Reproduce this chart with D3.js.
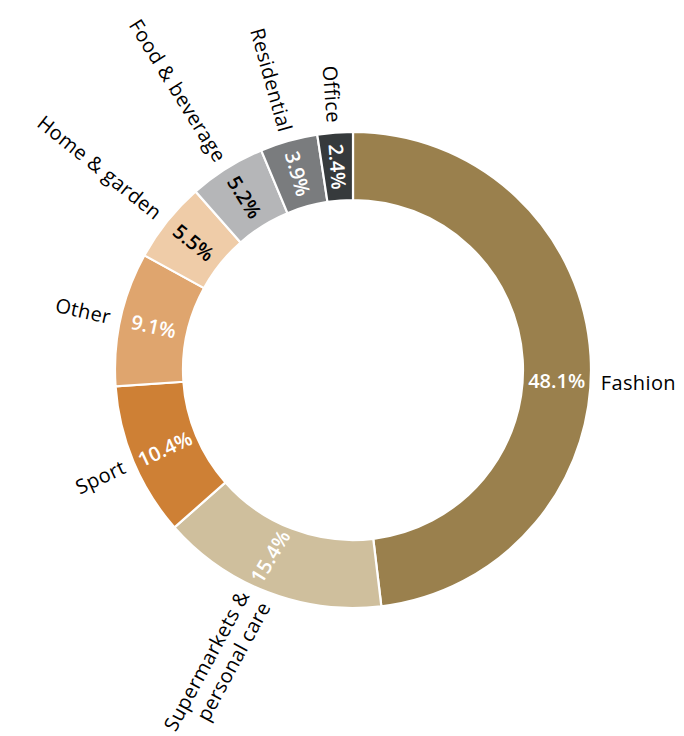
<!DOCTYPE html>
<html>
<head>
<meta charset="utf-8">
<script src="https://cdn.jsdelivr.net/npm/d3@7"></script>
<style>
  html, body { margin: 0; padding: 0; background: #ffffff; }
  svg { display: block; }
  text { font-family: "Open Sans", "Noto Sans", sans-serif; }
</style>
</head>
<body>
<svg id="chart" width="684" height="736"></svg>
<script>
// Portfolio split by segment, share of total (%)
const categories = ["Fashion", "Supermarkets & personal care", "Sport", "Other",
                    "Home & garden", "Food & beverage", "Residential", "Office"];
const shares = [48.1, 15.4, 10.4, 9.1, 5.5, 5.2, 3.9, 2.4];
const sliceColors = ["#9a804d", "#cfbf9d", "#ce8035", "#dfa56e",
                     "#efcca8", "#b5b6b8", "#7a7c7e", "#363a3c"];
const valueTextColors = ["#ffffff", "#ffffff", "#ffffff", "#ffffff",
                         "#000000", "#000000", "#ffffff", "#ffffff"];
// Outer label text, split into lines
const labelLines = [["Fashion"], ["Supermarkets &", "personal care"], ["Sport"], ["Other"],
                    ["Home & garden"], ["Food & beverage"], ["Residential"], ["Office"]];

const data = categories.map((c, i) => ({
  category: c, value: shares[i], color: sliceColors[i],
  valueColor: valueTextColors[i], lines: labelLines[i]
}));

const cx = 353, cy = 370;
const outerR = 238, innerR = 170;
const valueR = (outerR + innerR) / 2;
const labelR = outerR + 10;
const lineHeight = 24;

// Hand-tuned label angles / tilts (degrees) for a few slices
const valuePlacement = {
  "Fashion": { angle: 93, rotate: 0 },
  "Supermarkets & personal care": { angle: 204, rotate: -59 },
  "Sport": { rotate: -25 }
};
const labelPlacement = {
  "Fashion": { angle: 93, rotate: 0 },
  "Supermarkets & personal care": { angle: 203.5, rotate: -61.5 },
  "Sport": { rotate: -25 }
};

const svg = d3.select("#chart");
const g = svg.append("g").attr("transform", `translate(${cx},${cy})`);

const pie = d3.pie().value(d => d.value).sort(null)
  .startAngle(0).endAngle(2 * Math.PI);
const arc = d3.arc().innerRadius(innerR).outerRadius(outerR);
const arcs = pie(data);

g.selectAll("path.slice")
  .data(arcs)
  .join("path")
  .attr("class", "slice")
  .attr("d", arc)
  .attr("fill", d => d.data.color)
  .attr("stroke", "#ffffff")
  .attr("stroke-width", 2.2)
  .attr("stroke-linejoin", "miter");

function placement(d, table) {
  const mid = (d.startAngle + d.endAngle) / 2 * 180 / Math.PI;
  const p = table[d.data.category] || {};
  const angle = p.angle !== undefined ? p.angle : mid;
  const right = angle < 180;
  let rot = right ? angle - 90 : angle + 90 - 360;
  if (p.rotate !== undefined) rot = p.rotate;
  return { angle, right, rot };
}

function pos(angleDeg, r) {
  const a = angleDeg * Math.PI / 180;
  return [r * Math.sin(a), -r * Math.cos(a)];
}

// Percentages inside the ring
g.selectAll("text.value")
  .data(arcs)
  .join("text")
  .attr("class", "value")
  .attr("transform", d => {
    const pl = placement(d, valuePlacement);
    const [x, y] = pos(pl.angle, valueR);
    return `translate(${x},${y}) rotate(${pl.rot})`;
  })
  .attr("text-anchor", "middle")
  .attr("dominant-baseline", "central")
  .attr("font-size", 20)
  .attr("font-weight", 600)
  .attr("fill", d => d.data.valueColor)
  .text(d => d.data.value.toFixed(1) + "%");

// Category names outside the ring
const labels = g.selectAll("text.label")
  .data(arcs)
  .join("text")
  .attr("class", "label")
  .attr("transform", d => {
    const pl = placement(d, labelPlacement);
    const [x, y] = pos(pl.angle, labelR);
    return `translate(${x},${y}) rotate(${pl.rot})`;
  })
  .attr("text-anchor", d => placement(d, labelPlacement).right ? "start" : "end")
  .attr("font-size", 20)
  .attr("letter-spacing", "0.4px")
  .attr("fill", "#000000");

labels.each(function(d) {
  const n = d.data.lines.length;
  d3.select(this).selectAll("tspan")
    .data(d.data.lines)
    .join("tspan")
    .attr("x", 0)
    .attr("dy", (t, i) => i === 0 ? (-(n - 1) / 2 * lineHeight) + "px" : lineHeight + "px")
    .attr("dominant-baseline", "central")
    .text(t => t);
});
</script>
</body>
</html>
